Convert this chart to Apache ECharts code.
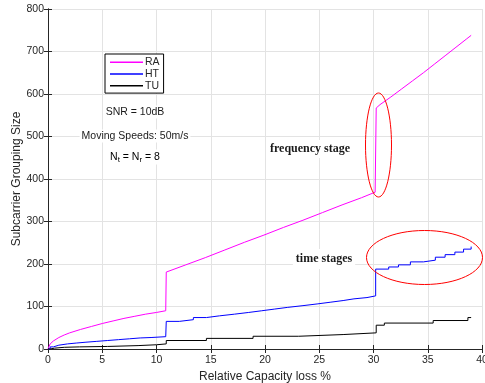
<!DOCTYPE html>
<html>
<head>
<meta charset="utf-8">
<script src="https://cdn.jsdelivr.net/npm/echarts@6/dist/echarts.min.js"></script>
<style>
  html, body { margin: 0; padding: 0; background: #fff; }
  #chart { width: 485px; height: 383px; }
</style>
</head>
<body>
<div id="chart"></div>
<script>
// Series names and colours
const seriesNames = ['RA', 'HT', 'TU'];
const seriesColors = ['#ff00ff', '#0000ff', '#000000'];

// [relative capacity loss %, subcarrier grouping size]
const raPoints = [
  [0, 0], [0.2, 12], [0.5, 19], [1, 27], [1.5, 33], [2, 38], [3, 46], [4, 53], [5, 60],
  [6, 66], [7, 72], [8, 77], [9, 82], [10, 86], [10.85, 90],
  [10.9, 181], [12.7, 198], [14.5, 215], [16.3, 233], [18.1, 251], [19.9, 268],
  [21.7, 286], [23.5, 303], [25.3, 321], [27.1, 339], [28.9, 356], [30.15, 369],
  [30.25, 567], [30.6, 575], [31.6, 593], [32.6, 612], [33.6, 631], [34.6, 650],
  [35.6, 670], [36.6, 690], [37.6, 710], [38.6, 730], [39.0, 738]
];
// stair corners
const htPoints = [
  [0, 0], [0.2, 5], [0.5, 9], [1.0, 12], [1.8, 14], [2.6, 16], [3.5, 18], [4.5, 20], [5.5, 22],
  [6.5, 24], [7.5, 26], [8.5, 27], [9.5, 29], [10.85, 31],
  [10.9, 65], [12.1, 69], [13.4, 74], [14.6, 78], [15.8, 82], [17.2, 86], [18.5, 90], [19.7, 94],
  [20.9, 98], [22.1, 102], [23.5, 106], [24.8, 110], [26.0, 114], [27.2, 118], [28.2, 121],
  [29.4, 125], [30.2, 188], [31.4, 193], [32.3, 198], [33.4, 205], [34.6, 209], [35.7, 216],
  [36.6, 222], [37.5, 228], [38.3, 235], [39.0, 241]
];
const tuPoints = [
  [0, 0], [0.2, 2], [0.6, 4], [1.5, 5], [2.9, 6], [5.5, 8], [8.3, 10], [10.0, 12], [10.9, 20],
  [14.6, 25], [18.9, 30], [23.1, 34], [27.2, 38], [30.25, 56], [31.0, 61], [35.5, 67],
  [38.7, 74], [39.0, 74]
];
const stepped = [false, 'end', 'end'];

// Axis ranges [min, max, interval]
const xRange = [0, 40, 5];
const yRange = [0, 800, 100];

const font = "'Liberation Sans', Arial, sans-serif";
const serif = "bold 12px 'Liberation Serif', 'Times New Roman', serif";
const axisColor = '#262626';

const chart = echarts.init(document.getElementById('chart'));

const frameAxis = {
  axisLine: { show: true, lineStyle: { color: axisColor, width: 1 } },
  axisTick: { show: true, inside: true, length: 4, lineStyle: { color: axisColor } },
};

// annotation text with a white box, like the matlab text objects
const note = (x, y, text, fontStr, pad) => ({
  type: 'text', x, y, z: 50,
  style: {
    text, font: fontStr, fill: '#1a1a1a', textAlign: 'center', textVerticalAlign: 'middle',
    backgroundColor: '#fff', padding: pad,
  },
});

chart.setOption({
  animation: false,
  backgroundColor: '#fff',
  grid: { left: 48, right: 3, top: 9, bottom: 34, outerBoundsMode: 'none' },
  legend: {
    data: seriesNames,
    orient: 'vertical',
    left: 105,
    top: 54,
    padding: [2.5, 4, 1.5, 5],
    itemGap: 0,
    itemWidth: 33,
    itemHeight: 1.5,
    icon: 'rect',
    borderColor: '#000',
    borderWidth: 1,
    backgroundColor: '#fff',
    textStyle: { fontFamily: font, fontSize: 10.5, color: axisColor, lineHeight: 11.7, padding: [0, 0, 0, -3] },
  },
  xAxis: [
    {
      type: 'value', min: xRange[0], max: xRange[1], interval: xRange[2],
      name: 'Relative Capacity loss %', nameLocation: 'middle', nameGap: 20,
      nameTextStyle: { fontFamily: font, fontSize: 12, color: axisColor },
      ...frameAxis,
      axisLabel: { fontFamily: font, fontSize: 10.5, color: axisColor, margin: 6 },
      splitLine: { show: true, lineStyle: { color: '#e3e3e3' } },
    },
    {
      type: 'value', position: 'top', min: xRange[0], max: xRange[1], interval: xRange[2],
      ...frameAxis, axisLabel: { show: false }, splitLine: { show: false },
    },
  ],
  yAxis: [
    {
      type: 'value', min: yRange[0], max: yRange[1], interval: yRange[2],
      name: 'Subcarrier Grouping Size', nameLocation: 'middle', nameGap: 25, nameMoveOverlap: false,
      nameTextStyle: { fontFamily: font, fontSize: 12, color: axisColor },
      ...frameAxis,
      axisLabel: { fontFamily: font, fontSize: 10.5, color: axisColor, margin: 4 },
      splitLine: { show: true, lineStyle: { color: '#e3e3e3' } },
    },
    {
      type: 'value', position: 'right', min: yRange[0], max: yRange[1], interval: yRange[2],
      ...frameAxis, axisLabel: { show: false }, splitLine: { show: false },
    },
  ],
  series: [raPoints, htPoints, tuPoints].map((pts, i) => ({
    name: seriesNames[i],
    type: 'line',
    step: stepped[i],
    data: pts,
    showSymbol: false,
    color: seriesColors[i],
    lineStyle: { width: 1, color: seriesColors[i] },
  })),
  graphic: [
    note(135, 112, 'SNR = 10dB', '10.5px ' + font, [1, 2]),
    note(135, 136, 'Moving Speeds: 50m/s', '10.5px ' + font, [1, 2]),
    {
      type: 'text', x: 135, y: 157, z: 50,
      style: {
        text: '{n|N}{s|t}{n| = N}{s|r}{n| = 8}',
        textAlign: 'center', textVerticalAlign: 'middle',
        backgroundColor: '#fff', padding: [1, 2],
        rich: {
          n: { fontFamily: font, fontSize: 10.5, color: '#1a1a1a' },
          s: { fontFamily: font, fontSize: 8, color: '#1a1a1a', verticalAlign: 'bottom', padding: [5, 0, 0, 0] },
        },
      },
    },
    note(310, 149, 'frequency stage', serif, [3, 4]),
    note(324, 259, 'time stages', serif, [4, 3]),
    { type: 'ellipse', shape: { cx: 378.5, cy: 145, rx: 13, ry: 52 }, style: { fill: null, stroke: '#ff0000', lineWidth: 1 }, z: 100 },
    { type: 'ellipse', shape: { cx: 424.5, cy: 257.5, rx: 58, ry: 27 }, style: { fill: null, stroke: '#ff0000', lineWidth: 1 }, z: 100 },
  ],
});
</script>
</body>
</html>
